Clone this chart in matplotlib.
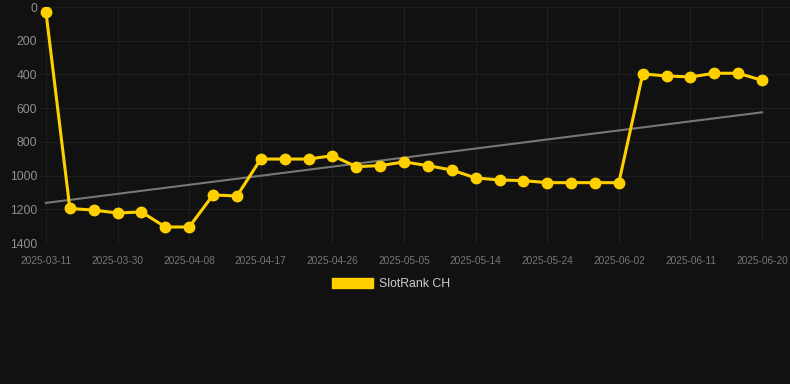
import numpy as np
import matplotlib.pyplot as plt
from matplotlib.patches import Patch

plt.rcParams['font.family'] = ['Liberation Sans', 'DejaVu Sans']

# dates of the ranking (category axis, labels every 3rd point)
dates = ["2025-03-11", "2025-03-24", "2025-03-27", "2025-03-30", "2025-04-02",
         "2025-04-05", "2025-04-08", "2025-04-11", "2025-04-14", "2025-04-17",
         "2025-04-20", "2025-04-23", "2025-04-26", "2025-04-29", "2025-05-02",
         "2025-05-05", "2025-05-08", "2025-05-11", "2025-05-14", "2025-05-17",
         "2025-05-21", "2025-05-24", "2025-05-27", "2025-05-30", "2025-06-02",
         "2025-06-05", "2025-06-08", "2025-06-11", "2025-06-14", "2025-06-17",
         "2025-06-20"]
rank = [30, 1195, 1205, 1222, 1216, 1305, 1305, 1115, 1121, 902,
        902, 902, 882, 947, 941, 919, 941, 967, 1014, 1026,
        1030, 1042, 1042, 1042, 1042, 397, 409, 415, 393, 393,
        435]
series_name = "SlotRank CH"

bg = "#111111"
yellow = "#FFD000"

fig = plt.figure(figsize=(7.9, 3.84), dpi=100, facecolor=bg)
ax = fig.add_axes([40/790, 1-243/384, 750/790, 236/384], facecolor=bg)

x = np.arange(len(rank))
# linear trend line
k, b = np.polyfit(x, rank, 1)
ax.plot(x, k*x + b, color="#777777", lw=1.5, zorder=2)

ax.plot(x, rank, color=yellow, lw=2.2, marker="o", markersize=7.5,
        markerfacecolor=yellow, markeredgecolor=yellow, zorder=3)

ax.set_ylim(1400, 0)
ax.set_yticks(range(0, 1401, 200))
ax.set_xlim(-0.25, 31.17)
ax.set_xticks(x[::3])
ax.set_xticklabels(dates[::3])

ax.grid(True, color="#1f1f1f", lw=0.8)
ax.set_axisbelow(True)
for s in ax.spines.values():
    s.set_visible(False)
ax.tick_params(axis="y", length=0, pad=2, labelsize=8.8, labelcolor="#8f8f8f")
ax.tick_params(axis="x", length=0, pad=9, labelsize=7.3, labelcolor="#777777")

fig.legend(handles=[Patch(color=yellow, label=series_name)],
           loc="center", bbox_to_anchor=(391/790, 1-284/384), frameon=False,
           handlelength=3.3, handleheight=0.9, handletextpad=0.5,
           fontsize=8.8, labelcolor="#cccccc")

fig.savefig("out.png", facecolor=bg)
